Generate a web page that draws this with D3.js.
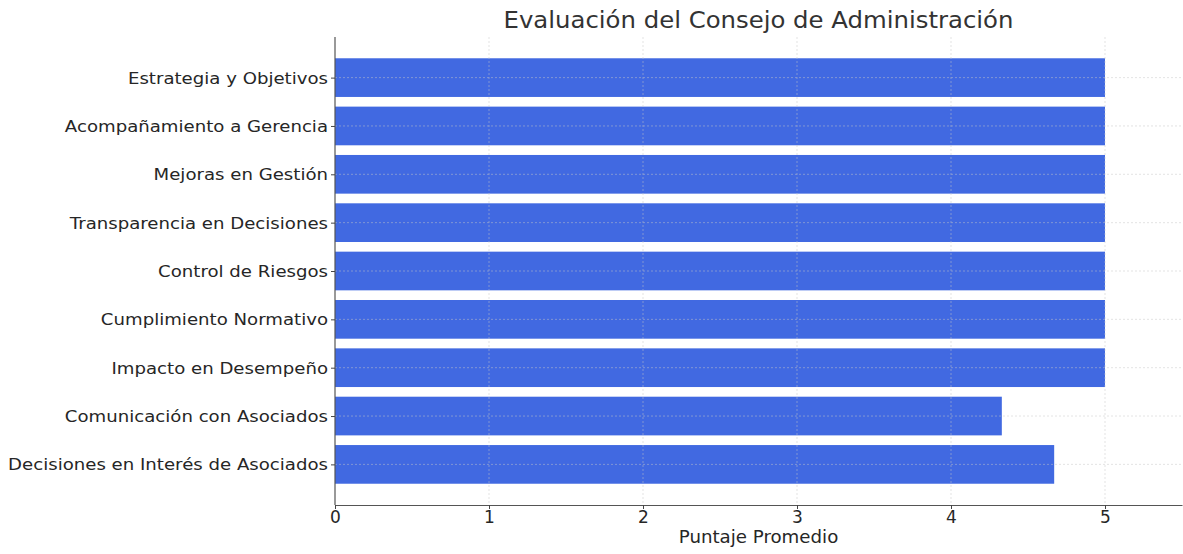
<!DOCTYPE html>
<html>
<head>
<meta charset="utf-8">
<script src="https://cdn.jsdelivr.net/npm/d3@7"></script>
<style>
  html, body { margin: 0; padding: 0; background: #fff; }
  svg { display: block; font-family: "DejaVu Sans", sans-serif; }
</style>
</head>
<body>
<svg id="chart" width="1183" height="554"></svg>
<script>
const categories = [
  "Estrategia y Objetivos",
  "Acompañamiento a Gerencia",
  "Mejoras en Gestión",
  "Transparencia en Decisiones",
  "Control de Riesgos",
  "Cumplimiento Normativo",
  "Impacto en Desempeño",
  "Comunicación con Asociados",
  "Decisiones en Interés de Asociados"
];
const values = [5, 5, 5, 5, 5, 5, 5, 4.33, 4.67];
const xTicks = [0, 1, 2, 3, 4, 5];
const title = "Evaluación del Consejo de Administración";
const xLabel = "Puntaje Promedio";

(function () {
const svg = d3.select("#chart");
const mLeft = 335, mRight = 1182, mTop = 37, mBottom = 505;
const n = categories.length;

const x = d3.scaleLinear().domain([0, 5.5]).range([mLeft, mRight]);
const y = d3.scaleLinear().domain([-0.84, n - 1 + 0.84]).range([mTop, mBottom]);
const barH = y(0.4) - y(-0.4);

svg.append("g").selectAll("rect").data(values).join("rect")
  .attr("x", x(0))
  .attr("y", (d, i) => y(i) - barH / 2)
  .attr("width", d => x(d) - x(0))
  .attr("height", barH)
  .attr("fill", "#4169e1");

const grid = svg.append("g").attr("stroke", "#c8c8c8").attr("stroke-width", 0.8)
  .attr("stroke-dasharray", "2,2").attr("opacity", 0.6);
grid.selectAll("line.v").data(xTicks.slice(1)).join("line").attr("class", "v")
  .attr("x1", d => x(d)).attr("x2", d => x(d)).attr("y1", mTop).attr("y2", mBottom);
grid.selectAll("line.h").data(categories).join("line").attr("class", "h")
  .attr("x1", mLeft).attr("x2", mRight).attr("y1", (d, i) => y(i)).attr("y2", (d, i) => y(i));

const xAxis = d3.axisBottom(x).tickValues(xTicks).tickFormat(d3.format("d")).tickSizeInner(4).tickSizeOuter(0).tickPadding(2);
const gx = svg.append("g").attr("transform", `translate(0,${mBottom})`).call(xAxis);
gx.select(".domain").attr("stroke", "#555").attr("stroke-width", 1.2);
gx.selectAll(".tick line").attr("stroke", "#444");
gx.selectAll("text").attr("font-size", 17).attr("fill", "#262626").attr("font-family", "DejaVu Sans");

const sx = 1.17;
const yAxis = d3.axisLeft(y).tickValues(d3.range(n)).tickFormat(i => categories[i]).tickSizeInner(4).tickSizeOuter(0).tickPadding(3);
const gy = svg.append("g").attr("transform", `translate(${mLeft},0)`).call(yAxis);
gy.select(".domain").attr("stroke", "#555").attr("stroke-width", 1.2)
  .attr("d", `M0,${mTop}V${mBottom}`);
gy.selectAll(".tick line").attr("stroke", "#444");
gy.selectAll("text").attr("font-size", 15.5).attr("fill", "#262626").attr("font-family", "DejaVu Sans")
  .attr("x", -7 / sx).attr("dy", "0.36em").attr("transform", `scale(${sx},1)`);

const tsx = 1.06;
svg.append("text").attr("transform", `translate(${(mLeft + mRight) / 2},28) scale(${tsx},1)`)
  .attr("text-anchor", "middle").attr("font-size", 23).attr("fill", "#333")
  .text(title);

svg.append("text").attr("transform", `translate(${(mLeft + mRight) / 2},543) scale(1.04,1)`)
  .attr("text-anchor", "middle").attr("font-size", 17.5).attr("fill", "#262626")
  .text(xLabel);
})();
</script>
</body>
</html>
